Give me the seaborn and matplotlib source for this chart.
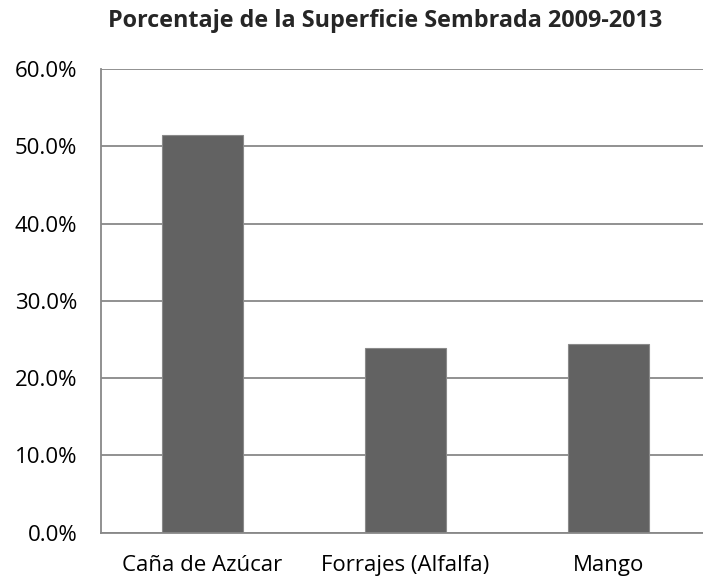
import matplotlib
matplotlib.use("Agg")
import numpy as np
import pandas as pd
import seaborn as sns
from matplotlib import pyplot as plt
from matplotlib.ticker import FixedLocator, PercentFormatter

cultivos = ["Caña de Azúcar", "Forrajes (Alfalfa)", "Mango"]
porcentaje = [51.5, 23.9, 24.4]
y_ticks = [0, 10, 20, 30, 40, 50, 60]

GRID = "#888888"
BAR = "#626262"

sns.set_style("white")
plt.rcParams["font.family"] = ["Open Sans", "DejaVu Sans"]

df = pd.DataFrame({"cultivo": cultivos, "pct": porcentaje})

fig = plt.figure(figsize=(7.03, 5.8), dpi=100)
ax = fig.add_axes([101 / 703, 47.3 / 580, 609 / 703, 463.7 / 580])

sns.barplot(data=df, x="cultivo", y="pct", ax=ax, color=BAR, width=0.4,
            saturation=1, edgecolor="#8a8a8a", linewidth=0.8, zorder=3)

ax.set_ylim(0, 60)
ax.set_xlim(-0.5, 2.5)
ax.yaxis.set_major_locator(FixedLocator(y_ticks))
ax.yaxis.set_major_formatter(PercentFormatter(decimals=1))
ax.grid(axis="y", color=GRID, linewidth=1.3, zorder=0)

# category boundaries get the tick marks, labels sit in between
ax.xaxis.set_minor_locator(FixedLocator([-0.5, 0.5, 1.5, 2.5]))
ax.tick_params(axis="x", which="major", length=0, pad=16, labelsize=16)
ax.tick_params(axis="x", which="minor", length=5, width=1.3, color=GRID,
               direction="out")
ax.tick_params(axis="y", length=6, width=1.3, color=GRID, direction="out",
               labelsize=16, pad=11)
for lab in ax.get_xticklabels() + ax.get_yticklabels():
    lab.set_color("black")

for side in ["top", "right"]:
    ax.spines[side].set_visible(False)
for side in ["left", "bottom"]:
    ax.spines[side].set_color(GRID)
    ax.spines[side].set_linewidth(1.3)
    ax.spines[side].set_zorder(4)

ax.set_xlabel("")
ax.set_ylabel("")

fig.text(385 / 703, 1 - 21 / 580, "Porcentaje de la Superficie Sembrada 2009-2013",
         ha="center", va="center", fontsize=16.8, fontweight="bold")

fig.savefig("out.png", dpi=100)
